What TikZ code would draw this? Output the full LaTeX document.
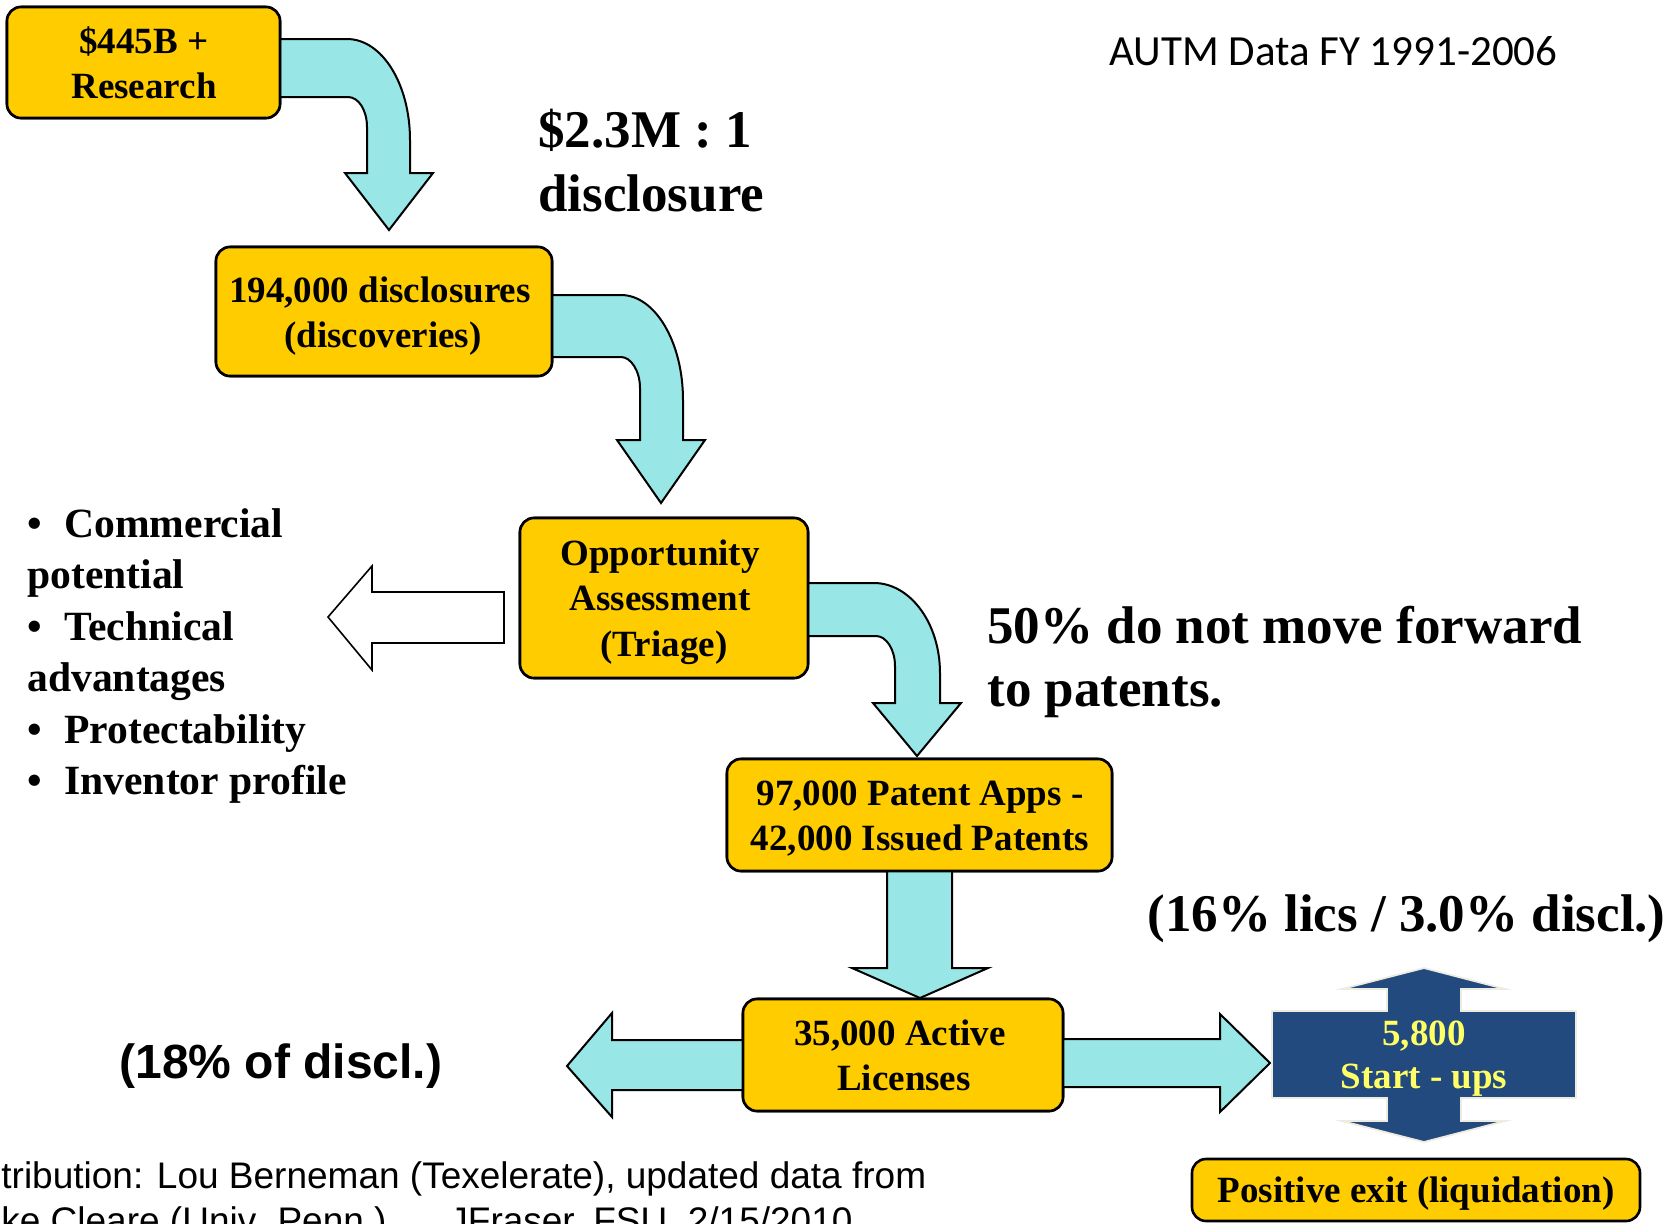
\documentclass[tikz,border=0pt]{standalone}
\usepackage{fontspec}
\setmainfont{Liberation Serif}
\newfontfamily\arialf{Liberation Sans}
\newfontfamily\calibf{Carlito}
\definecolor{boxyellow}{HTML}{FFCC00}
\definecolor{arrowcyan}{HTML}{99E6E6}
\definecolor{suBlue}{HTML}{224A7E}
\definecolor{suText}{HTML}{FFFF66}
\definecolor{creamline}{HTML}{EEECE1}
\tikzset{
 ybox/.style={draw=black, fill=boxyellow, line width=1.3pt, rounded corners=7pt, inner sep=0pt, outer sep=0pt},
 carrow/.style={draw=black, fill=arrowcyan, line width=1pt, line join=miter},
 warrow/.style={draw=black, fill=white, line width=0.8pt, line join=miter},
 btxt/.style={font=\bfseries\fontsize{18.5}{22}\selectfont, anchor=base, inner sep=0pt},
 bigtxt/.style={font=\bfseries\fontsize{26.5}{32}\selectfont, anchor=base west, inner sep=0pt},
 listtxt/.style={font=\bfseries\fontsize{20.8}{24}\selectfont, anchor=base west, inner sep=0pt},
 foot/.style={font=\arialf\fontsize{18.5}{22}\selectfont, anchor=base west, inner sep=0pt},
}
\begin{document}
\begin{tikzpicture}[x=0.5pt,y=-0.5pt]
\useasboundingbox (0,0) rectangle (1678,1223);
\clip (0,0) rectangle (1678,1223);
\fill[white] (0,0) rectangle (1678,1223);

% boxes (placed first so anchors exist)
\node[ybox, minimum width=136.5pt, minimum height=55.5pt] (b1) at (143.5,62.5) {};
\node[ybox, minimum width=168pt, minimum height=64.5pt] (b2) at (384,311.5) {};
\node[ybox, minimum width=144pt, minimum height=80pt] (b3) at (664,598) {};
\node[ybox, minimum width=192.5pt, minimum height=56pt] (b4) at (919.5,815) {};
\node[ybox, minimum width=160pt, minimum height=56pt] (b5) at (903,1055) {};
\node[ybox, minimum width=224pt, minimum height=31pt] (b6) at (1416,1190) {};

% curved arrow 1
\path[carrow] (b1.east |- 0,39) -- (347,39) .. controls (382,39) and (410,84) .. (410,140)
  -- (410,173) -- (433,173) -- (389,230) -- (345,173) -- (367,173) -- (367,127)
  .. controls (367,110) and (358.5,97) .. (348,97) -- (b1.east |- 0,97) -- cycle;
% curved arrow 2
\path[carrow] (b2.east |- 0,295) -- (621,295) .. controls (655,295) and (683,342) .. (683,400)
  -- (683,440) -- (705,440) -- (661,503) -- (617,440) -- (640,440) -- (640,388)
  .. controls (640,371) and (631,357) .. (621,357) -- (b2.east |- 0,357) -- cycle;
% curved arrow 3
\path[carrow] (b3.east |- 0,583) -- (874,583) .. controls (910,583) and (940,623) .. (940,673)
  -- (940,703) -- (961,703) -- (917,756) -- (873,703) -- (895,703) -- (895,666)
  .. controls (895,649) and (886,636) .. (876,636) -- (b3.east |- 0,636) -- cycle;
% straight arrow down
\path[carrow] (b4.south -| 887,0) -- (887,968) -- (852,968) -- (920,998) -- (988,968) -- (952,968) -- (b4.south -| 952,0);
% left arrow from licenses
\path[carrow] (b5.west |- 0,1040) -- (612,1040) -- (612,1013) -- (567,1066) -- (612,1117) -- (612,1090) -- (b5.west |- 0,1090);
% right arrow from licenses
\path[carrow] (b5.east |- 0,1039) -- (1220,1039) -- (1220,1014) -- (1270,1063) -- (1220,1112) -- (1220,1087) -- (b5.east |- 0,1087);
% white arrow
\path[warrow] (504,592) -- (372,592) -- (372,566) -- (328,617) -- (372,670) -- (372,643) -- (504,643) -- cycle;

% redraw boxes on top of the arrow roots
\node[ybox, minimum width=136.5pt, minimum height=55.5pt] at (b1) {};
\node[ybox, minimum width=168pt, minimum height=64.5pt] at (b2) {};
\node[ybox, minimum width=144pt, minimum height=80pt] at (b3) {};
\node[ybox, minimum width=192.5pt, minimum height=56pt] at (b4) {};
\node[ybox, minimum width=160pt, minimum height=56pt] at (b5) {};

% start-ups up-down arrow shape
\path[fill=suBlue, draw=creamline, line width=0.9pt, line join=miter]
  (1424,968) -- (1505,989) -- (1461,989) -- (1461,1011) -- (1576,1011) -- (1576,1098)
  -- (1461,1098) -- (1461,1121) -- (1505,1121) -- (1424,1142) -- (1342,1121) -- (1387,1121)
  -- (1387,1098) -- (1272,1098) -- (1272,1011) -- (1387,1011) -- (1387,989) -- (1342,989) -- cycle;

% box texts
\node[btxt] (t1a) at (144,53) {\$445B +};
\node[btxt] (t1b) at (144,98) {Research};
\node[btxt] (t2a) at (380,302) {194,000 disclosures};
\node[btxt] (t2b) at (383,347) {(discoveries)};
\node[btxt] (t3a) at (660,565) {Opportunity};
\node[btxt] (t3b) at (660,610) {Assessment};
\node[btxt] (t3c) at (664,656) {(Triage)};
\node[btxt] (t4a) at (920,805) {97,000 Patent Apps -};
\node[btxt] (t4b) at (920,850) {42,000 Issued Patents};
\node[btxt] (t5a) at (900,1045) {35,000 Active};
\node[btxt] (t5b) at (904,1090) {Licenses};
\node[btxt, text=suText] (su1) at (1424,1045) {5,800};
\node[btxt, text=suText] (su2) at (1424,1088) {Start - ups};
\node[btxt] (t6) at (1416,1202) {Positive exit (liquidation)};

% free texts
\node[font=\calibf\fontsize{21.5}{25}\selectfont, anchor=base west, inner sep=0pt] (autm) at (1109,65) {AUTM Data FY 1991-2006};
\node[bigtxt] (r1) at (538,147) {\$2.3M : 1};
\node[bigtxt] (r2) at (538,211) {disclosure};
\node[bigtxt] (p1) at (987,643) {50\% do not move forward};
\node[bigtxt] (p2) at (987,706) {to patents.};
\node[bigtxt] (p3) at (1147,931) {(16\% lics / 3.0\% discl.)};
\node[font=\arialf\bfseries\fontsize{24}{28}\selectfont, anchor=base west, inner sep=0pt] (p4) at (119,1078) {(18\% of discl.)};

% bullet list
\node[listtxt] (l1b) at (27,537) {•};
\node[listtxt] (l1) at (64,537) {Commercial};
\node[listtxt] (l2) at (27,588.5) {potential};
\node[listtxt] (l3b) at (27,640) {•};
\node[listtxt] (l3) at (64,640) {Technical};
\node[listtxt] (l4) at (27,691.5) {advantages};
\node[listtxt] (l5b) at (27,743) {•};
\node[listtxt] (l5) at (64,743) {Protectability};
\node[listtxt] (l6b) at (27,794.5) {•};
\node[listtxt] (l6) at (64,794.5) {Inventor profile};

% footer
\node[foot] (f1) at (1,1188) {tribution: Lou Berneman (Texelerate), updated data from};
\node[foot] (f2) at (1,1233) {ke Cleare (Univ. Penn.)};
\node[foot] (f3) at (449,1233) {JFraser, FSU, 2/15/2010};
\end{tikzpicture}
\end{document}
